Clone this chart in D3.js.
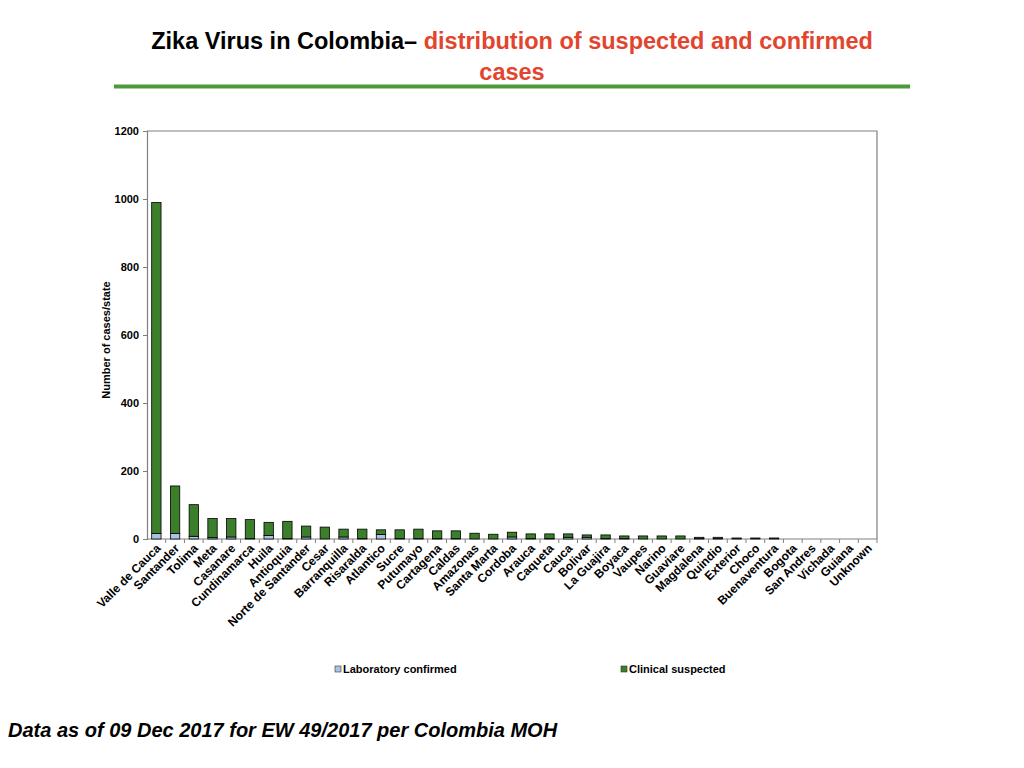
<!DOCTYPE html>
<html>
<head>
<meta charset="utf-8">
<script src="https://cdn.jsdelivr.net/npm/d3@7"></script>
<style>
  body { margin: 0; background: #fff; }
  svg { display: block; font-family: "Liberation Sans", Arial, sans-serif; }
</style>
</head>
<body>
<svg id="viewer" width="1024" height="768"></svg>
<script>
var states = ["Valle de Cauca", "Santander", "Tolima", "Meta", "Casanare", "Cundinamarca", "Huila",
    "Antioquia", "Norte de Santander", "Cesar", "Barranquilla", "Risaralda", "Atlantico", "Sucre",
    "Putumayo", "Cartagena", "Caldas", "Amazonas", "Santa Marta", "Cordoba", "Arauca", "Caqueta",
    "Cauca", "Bolivar", "La Guajira", "Boyaca", "Vaupes", "Narino", "Guaviare", "Magdalena",
    "Quindio", "Exterior", "Choco", "Buenaventura", "Bogota", "San Andres", "Vichada", "Guiana", "Unknown"];

var labConfirmed = [16, 16, 8, 4, 6, 1, 10, 1, 6, 0, 6, 1, 13, 1, 1, 1, 1, 0, 0, 6, 1, 1,
    5, 5, 1, 1, 0, 0, 0, 1, 1, 0, 0, 0, 0, 0, 0, 0, 0];

var clinicalSuspected = [974, 140, 93, 56, 54, 56, 39, 51, 32, 35, 23, 28, 14, 26, 28, 23, 23, 17, 14, 14, 14, 14,
    10, 7, 11, 8, 9, 9, 9, 4, 4, 3, 3, 3, 0, 0, 0, 0, 0];

var yTicks = [0, 200, 400, 600, 800, 1000, 1200];

var series = ["Laboratory confirmed", "Clinical suspected"];
var colors = ["#a9c5e3", "#3b7f2b"];

var svg = d3.select('#viewer');

var m = { left: 147, top: 131, right: 877, bottom: 539 };

var x = d3.scaleBand()
    .domain(states)
    .range([m.left, m.right])
    .paddingInner(0.5)
    .paddingOuter(0.25);

var y = d3.scaleLinear()
    .domain([0, 1200])
    .range([m.bottom, m.top]);

// title
var title = svg.append("text")
    .attr("text-anchor", "middle")
    .attr("font-weight", "bold")
    .attr("font-size", 23.5);

title.append("tspan")
    .attr("x", 512).attr("y", 49)
    .attr("fill", "#000")
    .text("Zika Virus in Colombia\u2013 ");
title.append("tspan")
    .attr("fill", "#e2452e")
    .text(" distribution of suspected and confirmed");
title.append("tspan")
    .attr("x", 512).attr("y", 80)
    .attr("fill", "#e2452e")
    .text("cases");

svg.append("line")
    .attr("x1", 114).attr("x2", 910)
    .attr("y1", 86.5).attr("y2", 86.5)
    .attr("stroke", "#4b9a3b")
    .attr("stroke-width", 4);

// frame (top + right)
svg.append("path")
    .attr("d", `M${m.left},${m.top}H${m.right}V${m.bottom}`)
    .attr("fill", "none")
    .attr("stroke", "#808080")
    .attr("stroke-width", 1.2);

// y axis
let yAxis = d3.axisLeft(y).tickValues(yTicks).tickFormat(d3.format("d")).tickSize(4).tickPadding(4);

let gy = svg.append("g")
    .attr("class", "axis yAxis")
    .attr("transform", `translate(${m.left} 0)`)
    .call(yAxis);

gy.select(".domain").attr("stroke", "#808080").attr("stroke-width", 1.2);
gy.selectAll(".tick line").attr("stroke", "#808080");
gy.selectAll(".tick text")
    .attr("font-family", "'Liberation Sans', Arial, sans-serif")
    .attr("font-weight", "bold")
    .attr("font-size", 11)
    .attr("fill", "#000");

// x axis: ticks sit between categories
let step = x.step();
let gx = svg.append("g")
    .attr("class", "axis xAxis")
    .attr("transform", `translate(0 ${m.bottom})`);

gx.append("line")
    .attr("x1", m.left).attr("x2", m.right)
    .attr("stroke", "#808080")
    .attr("stroke-width", 1.2);

gx.selectAll(".sep")
    .data(states)
    .enter()
    .append("line")
    .attr("class", "sep")
    .attr("x1", d => x(d) + x.bandwidth() / 2 + step / 2)
    .attr("x2", d => x(d) + x.bandwidth() / 2 + step / 2)
    .attr("y1", 0).attr("y2", 4)
    .attr("stroke", "#808080");

gx.selectAll(".lbl")
    .data(states)
    .enter()
    .append("text")
    .attr("class", "lbl")
    .attr("transform", d => `translate(${x(d) + x.bandwidth() / 2 + 5} 10) rotate(-45)`)
    .attr("text-anchor", "end")
    .attr("font-weight", "bold")
    .attr("font-size", 12)
    .text(d => d);

// y axis title
svg.append("text")
    .attr("transform", "translate(110 340) rotate(-90)")
    .attr("text-anchor", "middle")
    .attr("font-weight", "bold")
    .attr("font-size", 11)
    .text("Number of cases/state");

// stacked bars
let rows = states.map((s, i) => ({ state: s, lab: labConfirmed[i], clin: clinicalSuspected[i] }));
let stack = d3.stack().keys(["lab", "clin"])(rows);

svg.append("g")
    .selectAll("g")
    .data(stack)
    .enter()
    .append("g")
    .attr("fill", (d, i) => colors[i])
    .selectAll("rect")
    .data(d => d.filter(p => p[1] - p[0] > 0))
    .enter()
    .append("rect")
    .attr("x", d => x(d.data.state))
    .attr("width", x.bandwidth())
    .attr("y", d => y(d[1]))
    .attr("height", d => y(d[0]) - y(d[1]))
    .attr("stroke", "#000")
    .attr("stroke-width", 0.8);

// legend
let legendX = [335, 621];
let lg = svg.append("g")
    .selectAll("g")
    .data(series)
    .enter()
    .append("g")
    .attr("transform", (d, i) => `translate(${legendX[i]} 669)`);

lg.append("rect")
    .attr("x", 0).attr("y", -3)
    .attr("width", 6).attr("height", 6)
    .attr("fill", (d, i) => colors[i])
    .attr("stroke", "#333")
    .attr("stroke-width", 0.6);

lg.append("text")
    .attr("x", 8).attr("y", 4)
    .attr("font-weight", "bold")
    .attr("font-size", 11)
    .text(d => d);

// footer note
svg.append("text")
    .attr("x", 8).attr("y", 737)
    .attr("font-weight", "bold")
    .attr("font-style", "italic")
    .attr("font-size", 20)
    .text("Data as of 09 Dec 2017 for EW 49/2017 per Colombia MOH");
</script>
</body>
</html>
